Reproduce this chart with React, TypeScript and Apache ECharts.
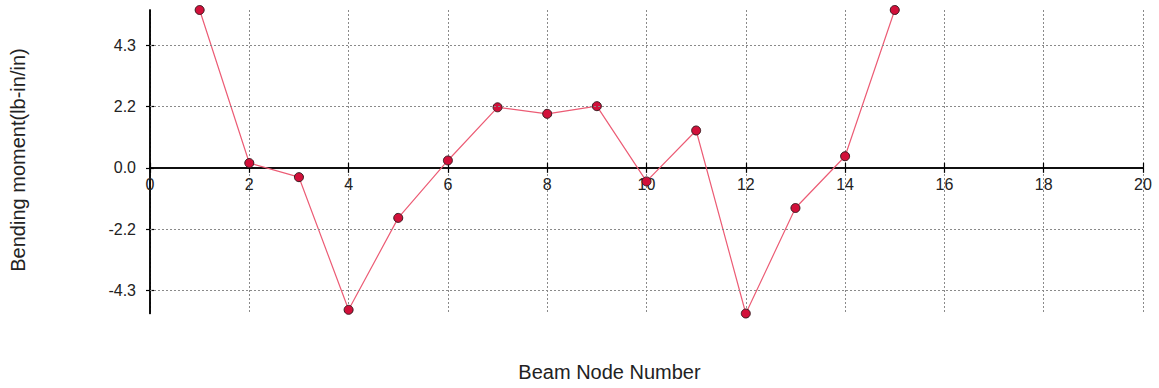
import React, { useEffect, useRef } from "react";
import * as echarts from "echarts";

// Beam node numbers and the bending moment at each node
const nodes = [1, 2, 3, 4, 5, 6, 7, 8, 9, 10, 11, 12, 13, 14, 15];
const moments = [5.58, 0.17, -0.33, -5.02, -1.77, 0.26, 2.14, 1.91, 2.18, -0.48, 1.32, -5.15, -1.42, 0.41, 5.58];

// Tick positions on the moment axis
const yTicks = [-13 / 3, -13 / 6, 0, 13 / 6, 13 / 3];

const FONT = "Arial, 'Liberation Sans', sans-serif";
const W = 1159;
const H = 388;
const GRID = { left: 150, right: 16, top: 10, bottom: 74.5 };

export default function App() {
  const ref = useRef<HTMLDivElement>(null);

  useEffect(() => {
    if (!ref.current) return;
    const chart = echarts.init(ref.current, undefined, { renderer: "svg" });

    const yMin = Math.min(...moments);
    const yMax = Math.max(...moments);

    // lift the node axis from the bottom edge up to the zero moment line
    const plotH = H - GRID.top - GRID.bottom;
    const zeroLift = -plotH * (0 - yMin) / (yMax - yMin);

    const lineStyle = { color: "#000", width: 1.5 };
    const tickStyle = { color: "#000", width: 1.2 };
    const xBase = {
      type: "value" as const,
      min: 0,
      max: 20,
      interval: 2,
      position: "bottom" as const,
      offset: zeroLift,
      axisLine: { onZero: false, lineStyle },
    };
    // the node axis starts at 0, so the moment axes sit on the left edge
    const yBase = {
      type: "value" as const,
      min: yMin,
      max: yMax,
      position: "left" as const,
      axisLine: { onZero: false, lineStyle },
    };

    chart.setOption({
      animation: false,
      grid: { ...GRID, containLabel: false },
      xAxis: [
        {
          ...xBase,
          axisTick: { show: true, length: 5, lineStyle: tickStyle },
          axisLabel: {
            show: true,
            margin: 9,
            color: "#222",
            fontSize: 16,
            fontFamily: FONT,
          },
          splitLine: {
            show: true,
            lineStyle: { color: "#8a8a8a", width: 1, type: [2, 2] },
          },
        },
        {
          ...xBase,
          axisTick: { show: true, inside: true, length: 5, lineStyle: tickStyle },
          axisLabel: { show: false },
          splitLine: { show: false },
        },
      ],
      yAxis: [
        {
          ...yBase,
          axisTick: { show: true, length: 4, customValues: yTicks, lineStyle: tickStyle },
          axisLabel: {
            show: true,
            customValues: yTicks,
            margin: 14,
            color: "#222",
            fontSize: 16,
            fontFamily: FONT,
            formatter: (v: number) => v.toFixed(1),
          },
          splitLine: { show: false },
        },
        {
          ...yBase,
          axisTick: { show: true, inside: true, length: 4, customValues: yTicks, lineStyle: tickStyle },
          axisLabel: { show: false },
          splitLine: { show: false },
        },
      ],
      graphic: [
        {
          type: "text",
          x: 609.5,
          y: 372,
          style: {
            text: "Beam Node Number",
            fontSize: 20,
            fontFamily: FONT,
            fill: "#222",
            align: "center",
            verticalAlign: "middle",
          },
        },
        {
          type: "text",
          x: 18,
          y: 160,
          rotation: Math.PI / 2,
          style: {
            text: "Bending moment(lb-in/in)",
            fontSize: 20,
            fontFamily: FONT,
            fill: "#222",
            align: "center",
            verticalAlign: "middle",
          },
        },
      ],
      series: [
        {
          // horizontal dotted grid lines at the moment ticks
          type: "line",
          data: [],
          z: 1,
          markLine: {
            silent: true,
            symbol: "none",
            label: { show: false },
            lineStyle: { color: "#8a8a8a", width: 1, type: [2, 2] },
            data: yTicks.filter((t) => t !== 0).map((t) => ({ yAxis: t })),
          },
        },
        {
          type: "line",
          xAxisIndex: 0,
          yAxisIndex: 0,
          z: 3,
          data: nodes.map((n, i) => [n, moments[i]]),
          symbol: "circle",
          symbolSize: 9,
          lineStyle: { color: "#ec5c75", width: 1.2 },
          itemStyle: { color: "#d2103a", borderColor: "#3a1a20", borderWidth: 1 },
        },
      ],
    });

    return () => chart.dispose();
  }, []);

  return (
    <div
      ref={ref}
      style={{ position: "fixed", left: 0, top: 0, width: W, height: H, background: "#fff" }}
    />
  );
}
